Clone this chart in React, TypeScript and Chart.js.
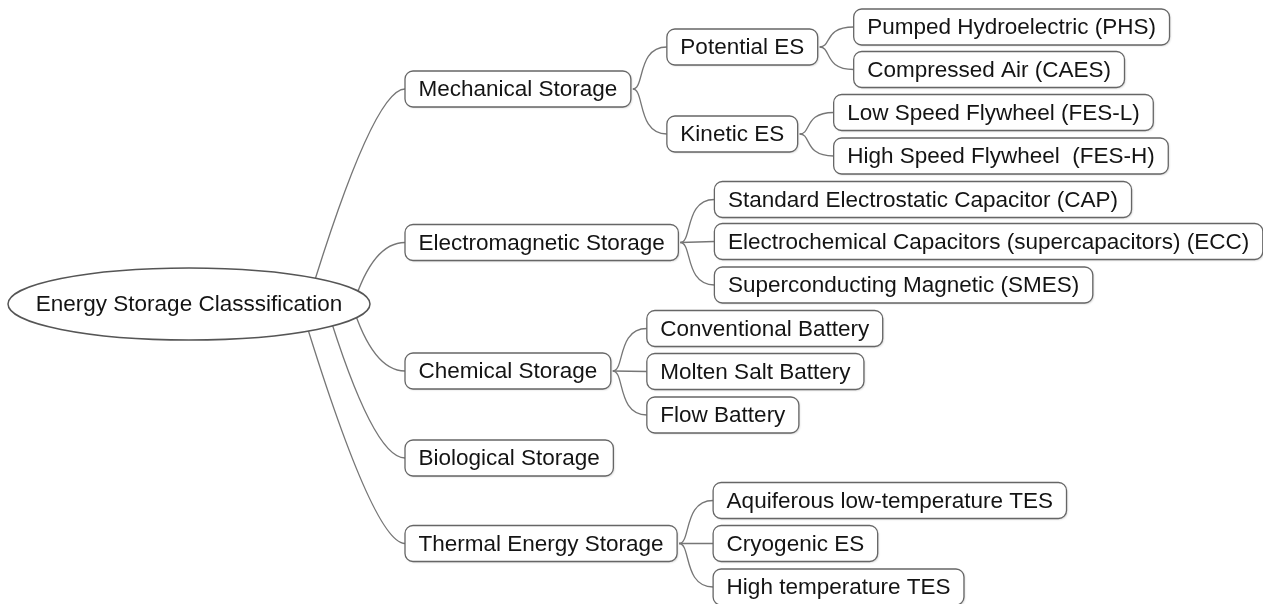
import React, { useEffect, useRef } from "react";
import { Chart, registerables } from "chart.js";

Chart.register(...registerables);

// ---- Data: mind-map nodes ----
const rootLabel = "Energy Storage Classsification";
const rootCenterY = 304;

const nodeLabels: string[] = [
  "Mechanical Storage",
  "Potential ES",
  "Pumped Hydroelectric (PHS)",
  "Compressed Air (CAES)",
  "Kinetic ES",
  "Low Speed Flywheel (FES-L)",
  "High Speed Flywheel  (FES-H)",
  "Electromagnetic Storage",
  "Standard Electrostatic Capacitor (CAP)",
  "Electrochemical Capacitors (supercapacitors) (ECC)",
  "Superconducting Magnetic (SMES)",
  "Chemical Storage",
  "Conventional Battery",
  "Molten Salt Battery",
  "Flow Battery",
  "Biological Storage",
  "Thermal Energy Storage",
  "Aquiferous low-temperature TES",
  "Cryogenic ES",
  "High temperature TES",
];

// index of parent node (-1 = root)
const nodeParents: number[] = [-1, 0, 1, 1, 0, 4, 4, -1, 7, 7, 7, -1, 11, 11, 11, -1, -1, 16, 16, 16];

// vertical position (row centre) of each node
const nodeRowY: number[] = [
  89, 47, 27, 69.5, 134, 112.5, 156,
  242.5, 199.5, 241.5, 285,
  371, 328.5, 371.5, 415,
  458,
  543.5, 500.5, 543.5, 587,
];

const W = 1263;
const H = 604;

export default function App() {
  const ref = useRef<HTMLCanvasElement | null>(null);

  useEffect(() => {
    document.body.style.margin = "0";
    const canvas = ref.current;
    if (!canvas) return;

    const FONT = '22.5px "Liberation Sans", Arial, sans-serif';
    const LINE = "#767676";
    const BORDER = "#666666";
    const TEXT = "#141414";
    const ROOT_CX = 189;
    const ROOT_RX = 181;
    const ROOT_RY = 36;
    const BOX_H = 36;
    const PAD = 27;
    const GAP1 = 35;
    const GAP = 36;

    const treePlugin = {
      id: "mindTree",
      beforeDraw(chart: any) {
        const c = chart.ctx;
        c.save();
        c.fillStyle = "#ffffff";
        c.fillRect(0, 0, chart.width, chart.height);
        c.restore();
      },
      afterDatasetsDraw(chart: any) {
        const c: CanvasRenderingContext2D = chart.ctx;
        const xs = chart.scales.x;
        const ys = chart.scales.y;
        c.save();
        c.font = FONT;

        const rcx = xs.getPixelForValue(ROOT_CX);
        const rcy = ys.getPixelForValue(rootCenterY);
        const rootRight = rcx + ROOT_RX;

        const n = nodeLabels.length;
        const left: number[] = new Array(n);
        const right: number[] = new Array(n);
        const cy: number[] = new Array(n);
        for (let i = 0; i < n; i++) {
          const p = nodeParents[i];
          left[i] = p < 0 ? rootRight + GAP1 : right[p] + GAP;
          const w = c.measureText(nodeLabels[i]).width + PAD;
          right[i] = left[i] + w;
          cy[i] = ys.getPixelForValue(nodeRowY[i]);
        }

        // connectors
        c.strokeStyle = LINE;
        c.lineWidth = 1.3;
        for (let i = 0; i < n; i++) {
          const p = nodeParents[i];
          c.beginPath();
          if (p < 0) {
            const dy = Math.abs(cy[i] - rcy);
            const ox = 372 - 0.3 * dy;
            c.moveTo(ox, rcy);
            c.quadraticCurveTo(left[i] - 32, cy[i], left[i], cy[i]);
          } else {
            const sx = right[p] + 2;
            const sy = cy[p];
            if (Math.abs(cy[i] - sy) < 3) {
              c.moveTo(sx, sy);
              c.lineTo(left[i], cy[i]);
            } else {
              c.moveTo(sx, sy);
              c.bezierCurveTo(sx + 12, sy, sx + 4, cy[i], left[i], cy[i]);
            }
          }
          c.stroke();
        }

        // root ellipse
        c.beginPath();
        c.ellipse(rcx, rcy, ROOT_RX, ROOT_RY, 0, 0, Math.PI * 2);
        c.fillStyle = "#ffffff";
        c.fill();
        c.strokeStyle = "#555555";
        c.lineWidth = 1.5;
        c.stroke();
        c.fillStyle = TEXT;
        c.textAlign = "center";
        c.textBaseline = "middle";
        c.fillText(rootLabel, rcx, rcy + 1);

        // boxes
        for (let i = 0; i < n; i++) {
          const x = left[i];
          const y = cy[i] - BOX_H / 2;
          const w = right[i] - left[i];
          c.save();
          c.shadowColor = "rgba(0,0,0,0.18)";
          c.shadowBlur = 2;
          c.shadowOffsetX = 1;
          c.shadowOffsetY = 1;
          c.beginPath();
          (c as any).roundRect(x, y, w, BOX_H, 8);
          c.fillStyle = "#ffffff";
          c.fill();
          c.restore();
          c.beginPath();
          (c as any).roundRect(x, y, w, BOX_H, 8);
          c.strokeStyle = BORDER;
          c.lineWidth = 1.3;
          c.stroke();
          c.fillStyle = TEXT;
          c.textAlign = "center";
          c.textBaseline = "middle";
          c.fillText(nodeLabels[i], x + w / 2, cy[i] + 1);
        }
        c.restore();
      },
    };

    const chart = new Chart(canvas, {
      type: "scatter",
      data: {
        datasets: [
          {
            label: "nodes",
            data: nodeRowY.map((y) => ({ x: 0, y })),
            pointRadius: 0,
            pointHoverRadius: 0,
          },
        ],
      },
      options: {
        animation: false,
        responsive: false,
        events: [],
        layout: { padding: 0 },
        plugins: { legend: { display: false }, tooltip: { enabled: false } },
        scales: {
          x: { type: "linear", min: 0, max: W, display: false },
          y: { type: "linear", min: 0, max: H, reverse: true, display: false },
        },
      },
      plugins: [treePlugin],
    });

    return () => chart.destroy();
  }, []);

  return (
    <canvas
      ref={ref}
      width={W}
      height={H}
      style={{ display: "block", width: W + "px", height: H + "px" }}
    />
  );
}
